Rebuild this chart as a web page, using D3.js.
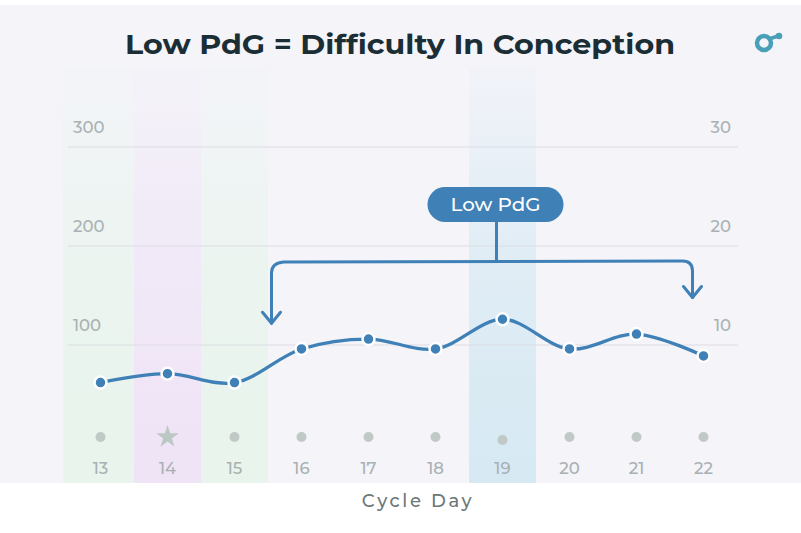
<!DOCTYPE html>
<html><head><meta charset="utf-8">
<script src="https://cdn.jsdelivr.net/npm/d3@7"></script>
<style>body{margin:0;background:#fff}svg{display:block}</style>
</head><body>
<svg id="c" width="801" height="533"></svg>
<script>
const days = [13,14,15,16,17,18,19,20,21,22];
const pdgValues = [62,71,62,96,106,96,126,96,111,89];
const markers = ["dot","star","dot","dot","dot","dot","dot","dot","dot","dot"];
const bandTypes = ["green","purple","green",null,null,null,"blue",null,null,null];
const leftTicks = [100,200,300];
const rightTicks = [10,20,30];
const titleText = "Low PdG = Difficulty In Conception";
const xTitle = "Cycle Day";
const annotationText = "Low PdG";

const FONT = "Montserrat, 'Open Sans', Lato, sans-serif";
const svg = d3.select("#c");
const W = 801, H = 533;

const x = d3.scaleBand().domain(days).range([67, 737]).padding(0);
const y = d3.scaleLinear().domain([0, 300]).range([444, 147]);
const y2 = d3.scaleLinear().domain([0, 30]).range([444, 147]);
const cx = d => x(d) + x.bandwidth() / 2;

// background
svg.append("rect").attr("x",0).attr("y",5).attr("width",W).attr("height",478).attr("fill","#f4f4f9");

const defs = svg.append("defs");
const bandColors = {green:"#e8f4ec", purple:"#efe3f6", blue:"#d6e9f3"};
Object.entries(bandColors).forEach(([k,c]) => {
  const g = defs.append("linearGradient").attr("id","g-"+k).attr("x1",0).attr("y1",0).attr("x2",0).attr("y2",1);
  g.append("stop").attr("offset","0%").attr("stop-color",c).attr("stop-opacity",0.1);
  g.append("stop").attr("offset","45%").attr("stop-color",c).attr("stop-opacity",0.65);
  g.append("stop").attr("offset","100%").attr("stop-color",c).attr("stop-opacity",1);
});

svg.append("g").selectAll("rect").data(days.filter((d,i)=>bandTypes[i]))
  .join("rect")
  .attr("x", d => x(d) - (d === 13 ? 4 : 0)).attr("width", d => x.bandwidth() + (d === 13 ? 4 : 0))
  .attr("y", 68).attr("height", 483-68)
  .attr("fill", d => "url(#g-" + bandTypes[days.indexOf(d)] + ")");

// gridlines
svg.append("g").selectAll("line").data(leftTicks).join("line")
  .attr("x1",68).attr("x2",738).attr("y1",d=>y(d)).attr("y2",d=>y(d))
  .attr("stroke","#dcdce3").attr("stroke-width",1);

// left tick labels
svg.append("g").selectAll("text").data(leftTicks).join("text")
  .attr("x",73).attr("y",d=>y(d)-14).text(d=>d)
  .attr("font-family",FONT).attr("font-weight",500).attr("font-size",16.5).attr("fill","#a9b2b3");
// right tick labels
svg.append("g").selectAll("text").data(rightTicks).join("text")
  .attr("x",731).attr("y",d=>y2(d)-14).text(d=>d).attr("text-anchor","end")
  .attr("font-family",FONT).attr("font-weight",500).attr("font-size",16.5).attr("fill","#a9b2b3");

// title
svg.append("text").attr("x",400).attr("y",54).attr("text-anchor","middle")
  .attr("font-family",FONT).attr("font-weight",700).attr("font-size",28)
  .attr("fill","#1b2e36").attr("textLength",550).attr("lengthAdjust","spacingAndGlyphs")
  .text(titleText);

// logo
svg.append("circle").attr("cx",764).attr("cy",43).attr("r",7).attr("fill","none").attr("stroke","#4a9fb8").attr("stroke-width",4.5);
svg.append("line").attr("x1",769).attr("y1",39).attr("x2",778).attr("y2",36).attr("stroke","#4a9fb8").attr("stroke-width",3.5);
svg.append("circle").attr("cx",779).attr("cy",36).attr("r",3.3).attr("fill","#4a9fb8");

// line
const lineColor = "#3f80b6";
const line = d3.line().x((d,i)=>cx(days[i])).y(d=>y(d)).curve(d3.curveCatmullRom.alpha(0.5));
svg.append("path").datum(pdgValues).attr("d",line).attr("fill","none")
  .attr("stroke",lineColor).attr("stroke-width",3.3);
svg.append("g").selectAll("circle").data(pdgValues).join("circle")
  .attr("cx",(d,i)=>cx(days[i])).attr("cy",d=>y(d)).attr("r",6)
  .attr("fill",lineColor).attr("stroke","#fff").attr("stroke-width",2.5);

// bottom markers
const markG = svg.append("g");
days.forEach((d,i) => {
  const yy = d === 19 ? 440 : 437;
  if (markers[i] === "star") {
    markG.append("path").attr("d", d3.symbol(d3.symbolStar, 160)())
      .attr("transform",`translate(${cx(d)},${yy})`).attr("fill","#bcc8c4");
  } else {
    markG.append("circle").attr("cx",cx(d)).attr("cy",yy).attr("r",5).attr("fill","#c0c9c6");
  }
});

// day labels
svg.append("g").selectAll("text").data(days).join("text")
  .attr("x",d=>cx(d)).attr("y",474).attr("text-anchor","middle").text(d=>d)
  .attr("font-family",FONT).attr("font-weight",500).attr("font-size",16.5).attr("fill","#a8b0b3");

// x title
svg.append("text").attr("x",418).attr("y",507).attr("text-anchor","middle")
  .attr("font-family",FONT).attr("font-weight",500).attr("font-size",18).attr("letter-spacing",2.6)
  .attr("fill","#6c7877").text(xTitle);

// annotation
const stemX = cx(19) - 6;
const lx = cx(16) - 30, rx = cx(22) - 11;
const barY = 261, lTip = y(122), rTip = y(148);
svg.append("path").attr("fill","none").attr("stroke",lineColor).attr("stroke-width",3)
  .attr("stroke-linecap","round").attr("stroke-linejoin","round")
  .attr("d",`M${lx},${lTip} L${lx},${barY+12} Q${lx},${barY+2} ${lx+12},${barY+1} L${rx-10},${barY} Q${rx},${barY} ${rx},${barY+10} L${rx},${rTip}`);
[[lx,lTip],[rx,rTip]].forEach(([ax,ay]) => {
  svg.append("path").attr("fill","none").attr("stroke",lineColor).attr("stroke-width",3)
    .attr("stroke-linecap","round").attr("stroke-linejoin","round")
    .attr("d",`M${ax-9},${ay-11} L${ax},${ay} L${ax+9},${ay-11}`);
});
svg.append("line").attr("x1",stemX).attr("x2",stemX).attr("y1",215).attr("y2",barY)
  .attr("stroke",lineColor).attr("stroke-width",3);
svg.append("rect").attr("x",stemX-69).attr("y",187).attr("width",136).attr("height",35)
  .attr("rx",17.5).attr("fill",lineColor);
svg.append("text").attr("x",stemX-1).attr("y",211).attr("text-anchor","middle")
  .attr("font-family",FONT).attr("font-weight",500).attr("font-size",19).attr("fill","#fff")
  .attr("textLength",90).attr("lengthAdjust","spacingAndGlyphs").text(annotationText);
</script>
</body></html>
